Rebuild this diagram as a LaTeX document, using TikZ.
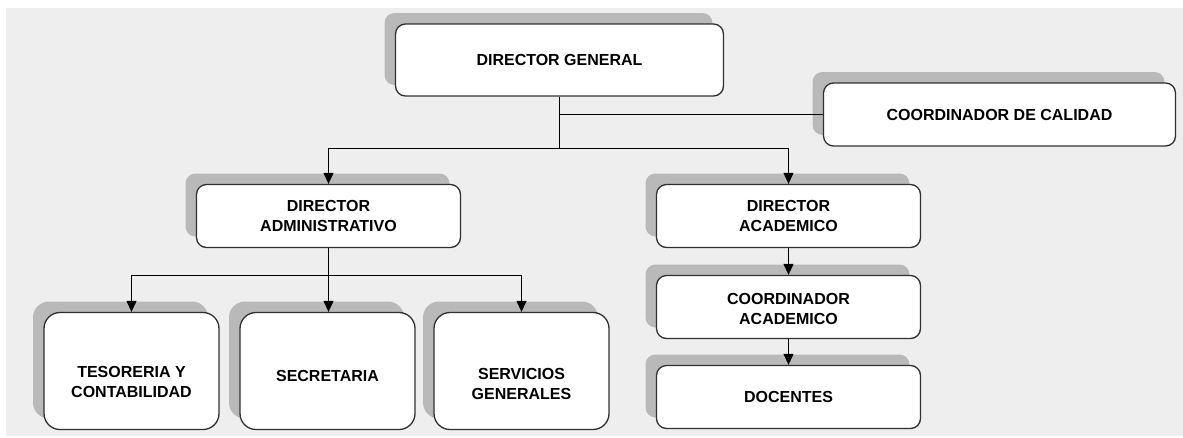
\documentclass[tikz,border=0pt]{standalone}
\usepackage{fontspec}
\setmainfont{Liberation Sans}
\usetikzlibrary{shadows,arrows.meta}
\definecolor{bggray}{HTML}{EEEEEE}
\definecolor{shadowgray}{HTML}{B9B9B9}
\definecolor{bordergray}{HTML}{303030}
\newcommand{\txtdrop}[1]{\rule{0pt}{#1}}
\begin{document}
\begin{tikzpicture}[x=1pt,y=-1pt,
  box/.style={draw=bordergray, line width=1.3pt, fill=white, rounded corners=10pt,
    align=center, font=\fontsize{16}{20.5}\selectfont\bfseries, inner sep=0pt,
    general shadow={fill=shadowgray, shadow xshift=-11pt, shadow yshift=11pt}},
  widebox/.style={box, minimum width=264pt, minimum height=63pt},
  tallbox/.style={box, minimum width=175pt, minimum height=117pt, rounded corners=16pt},
  conn/.style={line width=1.1pt, draw=black},
  arr/.style={conn, -{Triangle[length=11pt,width=10pt]}}]
\path[use as bounding box] (0,0) rectangle (1183,437);
\fill[bggray] (6,8) rectangle (1183,436);
% boxes
\node[box, minimum width=328pt, minimum height=72pt] (dg) at (559.5,60) {DIRECTOR GENERAL};
\node[box, minimum width=352pt, minimum height=63pt] (cc) at (999.5,114.5) {COORDINADOR DE CALIDAD};
\node[widebox] (da) at (328.5,216) {DIRECTOR\\ADMINISTRATIVO};
\node[widebox] (dac) at (788.5,216) {DIRECTOR\\ACADEMICO};
\node[widebox] (ca) at (788.5,307) {\txtdrop{15pt}COORDINADOR\\ACADEMICO};
\node[widebox] (doc) at (788.5,397) {DOCENTES};
\node[tallbox] (tes) at (131.5,371) {\txtdrop{33pt}TESORERIA Y\\CONTABILIDAD};
\node[tallbox] (sec) at (327.5,371) {\txtdrop{21.5pt}SECRETARIA};
\node[tallbox] (serv) at (521.5,371) {\txtdrop{37pt}SERVICIOS\\GENERALES};
% junction levels
\coordinate (h1) at (0,148.5);
\coordinate (h2) at (0,275.5);
% connectors
\draw[conn] (dg.south) -- (dg.south |- h1);
\draw[arr] (dg.south |- h1) -| (da.north);
\draw[arr] (dg.south |- h1) -| (dac.north);
\draw[conn] (dg.south |- cc.west) -- (cc.west);
\draw[arr] (da.south) -- (da.south |- sec.north);
\draw[arr] (da.south |- h2) -| (tes.north);
\draw[arr] (da.south |- h2) -| (serv.north);
\draw[arr] (dac.south) -- (ca.north);
\draw[arr] (ca.south) -- (doc.north);
\end{tikzpicture}
\end{document}
